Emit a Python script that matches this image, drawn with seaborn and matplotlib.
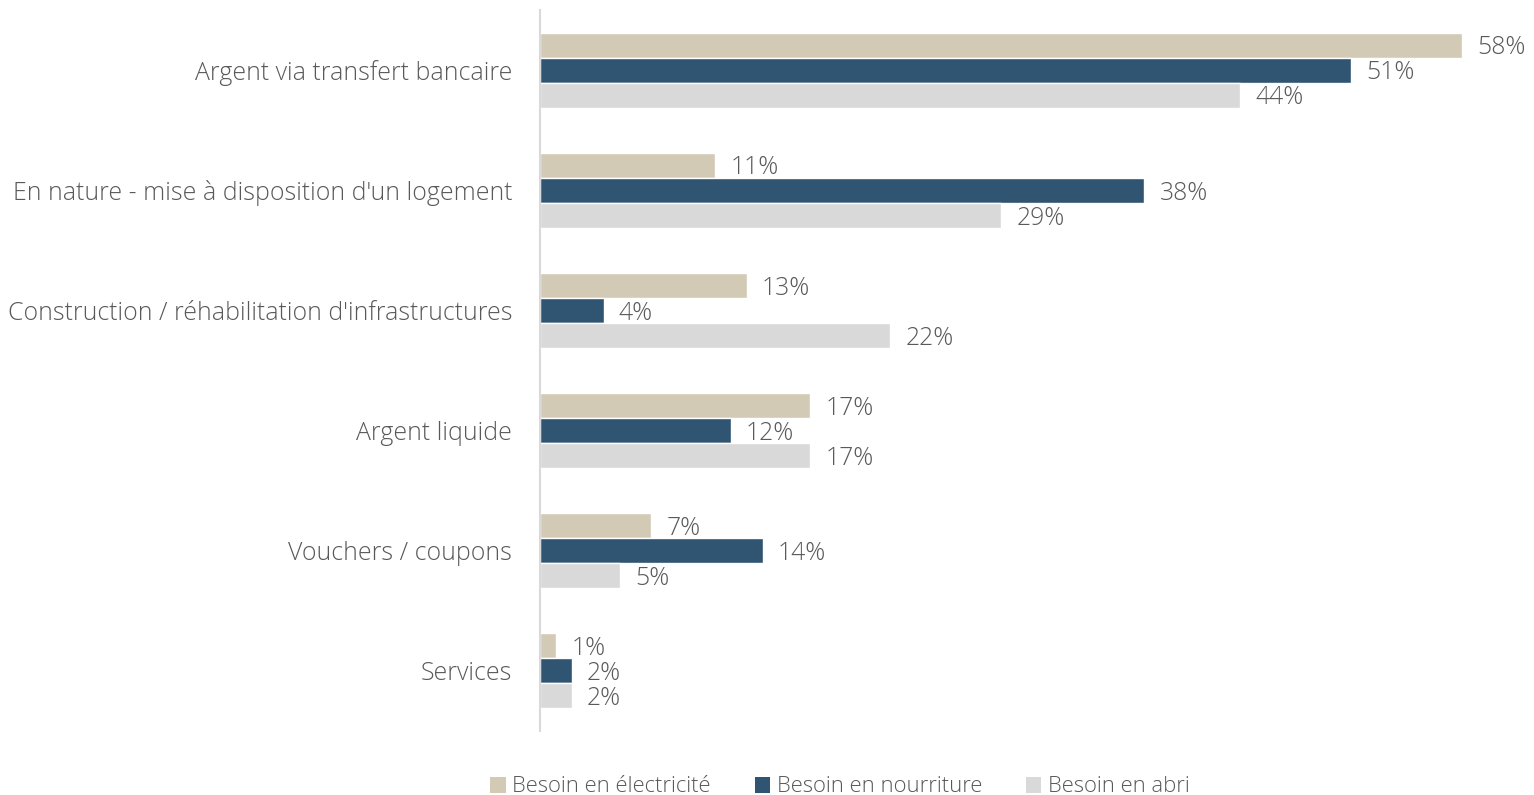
import matplotlib
matplotlib.use("Agg")
import matplotlib.pyplot as plt
from matplotlib.patches import Patch
import seaborn as sns
import pandas as pd

categories = [
    "Argent via transfert bancaire",
    "En nature - mise à disposition d'un logement",
    "Construction / réhabilitation d'infrastructures",
    "Argent liquide",
    "Vouchers / coupons",
    "Services",
]
series = ["Besoin en électricité", "Besoin en nourriture", "Besoin en abri"]
electricite = [58, 11, 13, 17, 7, 1]
nourriture = [51, 38, 4, 12, 14, 2]
abri = [44, 29, 22, 17, 5, 2]

colors = ["#D3CAB6", "#2F5572", "#D9D9D9"]
text_color = "#595959"

rows = []
for s, vals in zip(series, [electricite, nourriture, abri]):
    for c, v in zip(categories, vals):
        rows.append({"cat": c, "serie": s, "val": v})
df = pd.DataFrame(rows)

sns.set_theme(style="white")
plt.rcParams["font.family"] = ["Open Sans", "DejaVu Sans"]

fig = plt.figure(figsize=(15.34, 7.95), dpi=100)
ax = fig.add_axes([540 / 1534, 1 - 731 / 795, 994 / 1534, (731 - 10) / 795])

sns.barplot(data=df, y="cat", x="val", hue="serie", order=categories,
            hue_order=series, palette=colors, orient="h", width=0.625,
            saturation=1, legend=False, ax=ax)

for container in ax.containers:
    anns = ax.bar_label(container,
                        labels=[f"{int(round(b.get_width()))}%" for b in container],
                        padding=11, fontsize=17.8, color=text_color,
                        fontweight="light")
    for a in anns:
        a.xyann = (a.xyann[0], -2)

ax.set_xlim(0, 62.5)
ax.set_ylim(len(categories) - 0.5, -0.5)
ax.set_xlabel("")
ax.set_ylabel("")
ax.set_xticks([])
for side in ["top", "right", "bottom"]:
    ax.spines[side].set_visible(False)
ax.spines["left"].set_color("#D9D9D9")
ax.spines["left"].set_linewidth(1.5)
ax.tick_params(axis="y", length=0, pad=20, labelsize=17.9, labelcolor=text_color)
for lbl in ax.get_yticklabels():
    lbl.set_fontweight("light")

handles = [Patch(facecolor=c, edgecolor="none") for c in colors]
leg = fig.legend(handles, series, loc="center", ncol=3,
                 bbox_to_anchor=(840 / 1534, 1 - 787 / 795), frameon=False,
                 fontsize=15.8, handlelength=0.7, handleheight=0.7,
                 handletextpad=0.3, columnspacing=2.0)
for t in leg.get_texts():
    t.set_color(text_color)
    t.set_fontweight("light")

fig.savefig("out.png", dpi=100)
